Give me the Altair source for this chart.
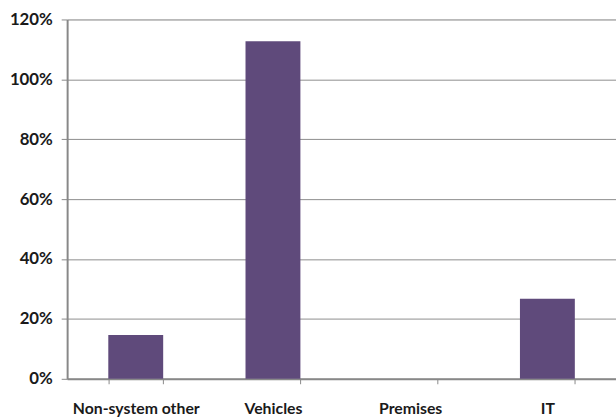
import altair as alt
import pandas as pd

categories = ["Non-system other", "Vehicles", "Premises", "IT"]
values = [0.146, 1.127, 0.0, 0.267]

df = pd.DataFrame({"category": categories, "value": values})

chart = alt.Chart(df).mark_bar(color="#5f4a7b").encode(
    x=alt.X("category:N", sort=categories, title=None,
            scale=alt.Scale(paddingInner=0.6, paddingOuter=0.3),
            axis=alt.Axis(labelAngle=0, labelFont="Lato", labelFontSize=16,
                          labelFontWeight="bold", labelColor="#1a1a1a",
                          labelPadding=17, tickBand="extent", tickSize=5,
                          tickColor="#888888", domainColor="#888888",
                          domainWidth=2, grid=False)),
    y=alt.Y("value:Q", title=None,
            scale=alt.Scale(domain=[0, 1.2], nice=False),
            axis=alt.Axis(format=".0%", values=[0, 0.2, 0.4, 0.6, 0.8, 1.0, 1.2],
                          labelFont="Lato", labelFontSize=17, labelFontWeight="bold",
                          labelColor="#1a1a1a", labelPadding=9, tickSize=6,
                          tickColor="#888888", domainColor="#888888", domainWidth=2,
                          gridColor="#8c8c8c", gridWidth=1)),
).properties(
    width=556, height=364,
    autosize=alt.AutoSizeParams(type="none"),
    padding={"left": 68, "top": 17, "right": 0, "bottom": 39},
).configure_view(stroke=None).configure(background="white")

chart.save("out.html", embed_options={"renderer": "svg", "actions": False})
